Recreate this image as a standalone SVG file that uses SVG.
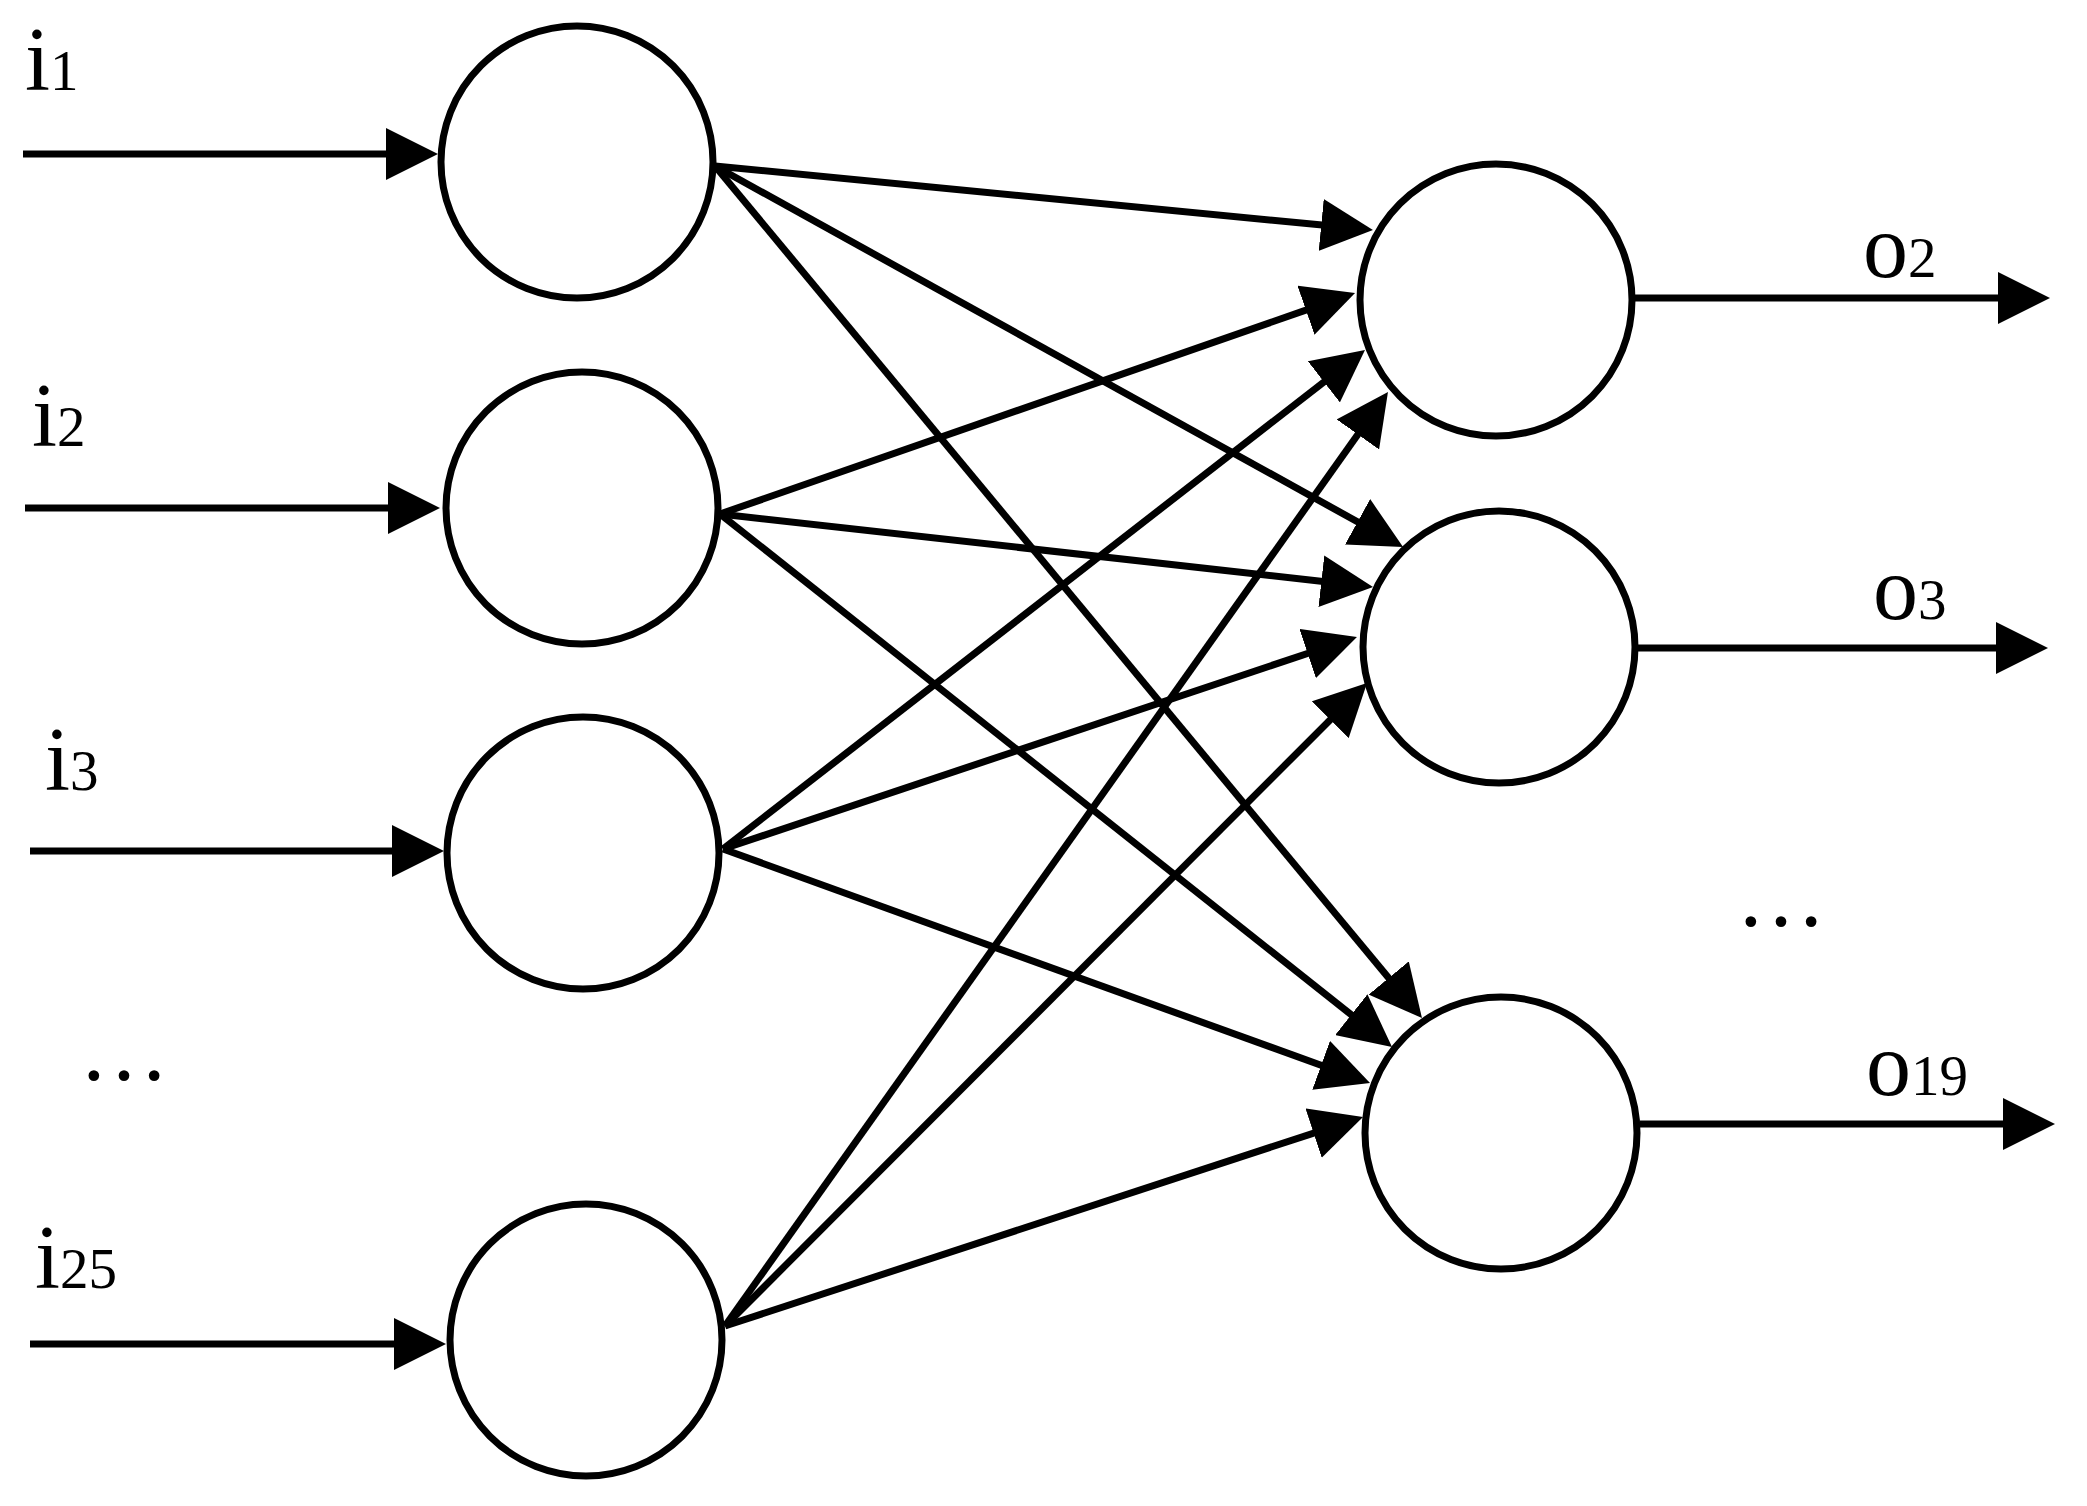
<svg xmlns="http://www.w3.org/2000/svg" width="2087" height="1506" viewBox="0 0 2087 1506">
<style>
.node{fill:#fff;stroke:#000;stroke-width:7}
.lbl{font-family:"Liberation Serif","Times New Roman",serif;font-size:90px;fill:#000}
.sub{font-size:57px}
.conn line{stroke:#000;stroke-width:7;fill:none}
</style>
<defs>
<marker id="ah" markerUnits="userSpaceOnUse" markerWidth="52" markerHeight="52" refX="22" refY="26" orient="auto" viewBox="0 0 52 52">
<path d="M0,0 L52,26 L0,52 Z" fill="#000"/>
</marker>
</defs>
<rect width="2087" height="1506" fill="#fff"/>
<g id="connectors" class="conn">
<line x1="23" y1="154" x2="408" y2="154" marker-end="url(#ah)"/>
<line x1="25" y1="508" x2="410" y2="508" marker-end="url(#ah)"/>
<line x1="30" y1="851" x2="414" y2="851" marker-end="url(#ah)"/>
<line x1="30" y1="1344" x2="416" y2="1344" marker-end="url(#ah)"/>
<line x1="1635" y1="298" x2="2020" y2="298" marker-end="url(#ah)"/>
<line x1="1636" y1="648" x2="2018" y2="648" marker-end="url(#ah)"/>
<line x1="1640" y1="1124" x2="2025" y2="1124" marker-end="url(#ah)"/>
<line x1="715" y1="166" x2="1343.1" y2="227.1" marker-end="url(#ah)"/>
<line x1="715" y1="166" x2="1376.8" y2="532.5" marker-end="url(#ah)"/>
<line x1="715" y1="166" x2="1402.8" y2="994.9" marker-end="url(#ah)"/>
<line x1="720" y1="514" x2="1326.7" y2="302.9" marker-end="url(#ah)"/>
<line x1="720" y1="514" x2="1343.2" y2="583.7" marker-end="url(#ah)"/>
<line x1="720" y1="514" x2="1368.5" y2="1028.4" marker-end="url(#ah)"/>
<line x1="723" y1="849" x2="1341.3" y2="368.4" marker-end="url(#ah)"/>
<line x1="723" y1="849" x2="1328.5" y2="646.5" marker-end="url(#ah)"/>
<line x1="723" y1="849" x2="1341.8" y2="1072.8" marker-end="url(#ah)"/>
<line x1="725" y1="1326" x2="1370.6" y2="416.5" marker-end="url(#ah)"/>
<line x1="725" y1="1326" x2="1345.8" y2="704.2" marker-end="url(#ah)"/>
<line x1="725" y1="1326" x2="1334.5" y2="1126.3" marker-end="url(#ah)"/>
</g>
<g id="in1"><circle class="node" cx="577" cy="162" r="136"/></g>
<g id="in2"><circle class="node" cx="582" cy="508" r="136"/></g>
<g id="in3"><circle class="node" cx="583" cy="853" r="136"/></g>
<g id="in25"><circle class="node" cx="586" cy="1340" r="136"/></g>
<g id="out2"><circle class="node" cx="1496" cy="300" r="136"/></g>
<g id="out3"><circle class="node" cx="1499" cy="647" r="136"/></g>
<g id="out19"><circle class="node" cx="1501" cy="1133" r="136"/></g>
<g id="labels">
<text class="lbl" x="25" y="89.5">i<tspan class="sub">1</tspan></text>
<text class="lbl" x="32" y="446">i<tspan class="sub">2</tspan></text>
<text class="lbl" x="45" y="790">i<tspan class="sub">3</tspan></text>
<text class="lbl" x="35" y="1288">i<tspan class="sub">25</tspan></text>
<text class="lbl" x="79" y="1080">…</text>
<text class="lbl" x="1863" y="277">o<tspan class="sub">2</tspan></text>
<text class="lbl" x="1873" y="619">o<tspan class="sub">3</tspan></text>
<text class="lbl" x="1866" y="1095">o<tspan class="sub">19</tspan></text>
<text class="lbl" x="1736" y="926">…</text>
</g>
</svg>
